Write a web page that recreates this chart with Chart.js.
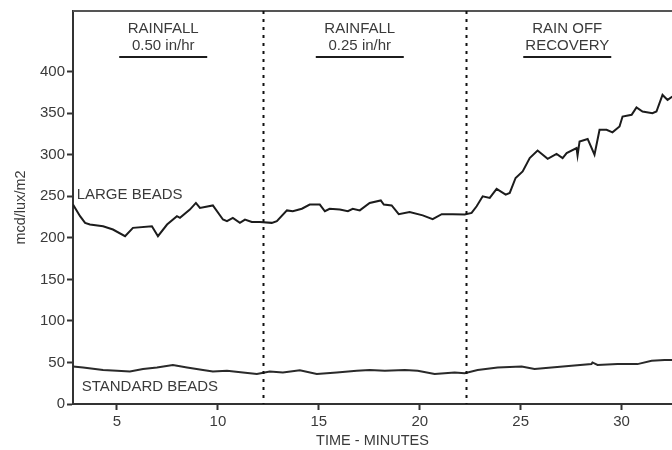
<!DOCTYPE html>
<html>
<head>
<meta charset="utf-8">
<script src="https://cdn.jsdelivr.net/npm/chart.js@4.4.1/dist/chart.umd.min.js"></script>
<style>
  body { margin: 0; background: #fff; }
  .chart-box { width: 672px; height: 450px; }
</style>
</head>
<body>
<div class="chart-box"><canvas id="chart"></canvas></div>
<script>
//Retroreflectivity readings (minutes, mcd/lux/m2)
const largeTime = [2.82, 3.17, 3.42, 3.66, 4.31, 4.80, 5.40, 5.79, 6.73, 7.03, 7.48, 7.97, 8.12, 8.61, 8.91, 9.11, 9.75, 10.25, 10.45, 10.74, 11.09, 11.34, 11.68, 12.08, 12.67, 12.92, 13.42, 13.71, 14.16, 14.55, 15.05, 15.30, 15.54, 16.04, 16.44, 16.68, 17.03, 17.52, 18.07, 18.22, 18.61, 18.96, 19.50, 20.15, 20.64, 21.09, 21.63, 22.23, 22.57, 22.82, 23.12, 23.47, 23.81, 24.26, 24.46, 24.75, 25.10, 25.45, 25.84, 26.34, 26.78, 27.08, 27.28, 27.77, 27.82, 27.92, 28.32, 28.66, 28.91, 29.26, 29.55, 29.90, 30.05, 30.50, 30.74, 31.04, 31.53, 31.73, 32.03, 32.28, 32.52];
const largeValue = [240, 226, 218, 216, 214, 210, 202, 212, 214, 202, 216, 226, 224, 234, 242, 236, 239, 222, 220, 224, 218, 222, 219, 219, 218, 220, 233, 232, 235, 240, 240, 232, 235, 234, 232, 235, 233, 242, 245, 240, 239, 228.5, 231, 227, 222.5, 228.5, 228.5, 228, 230, 238, 250, 248, 259, 252, 254, 272, 280, 296, 305, 295, 301, 296, 302, 308, 299, 316, 319, 300, 330, 330, 327, 334, 346, 348, 357, 352, 350, 352, 372, 366, 370];

const stdTime = [2.82, 3.32, 4.31, 5.00, 5.64, 6.29, 6.98, 7.77, 8.47, 9.26, 9.75, 10.45, 11.24, 11.93, 12.57, 13.22, 14.06, 14.90, 15.89, 16.88, 17.52, 18.27, 19.26, 19.90, 20.74, 21.73, 22.23, 22.87, 23.86, 25.05, 25.69, 26.53, 27.52, 28.51, 28.56, 28.81, 29.80, 30.79, 31.49, 32.13, 32.52];
const stdValue = [45, 44, 41, 40, 39, 42, 44, 47, 44, 41, 39, 40, 38, 36, 39, 38, 40.5, 36, 38, 40, 41, 40, 41, 40, 36, 38, 37, 41, 44, 45, 42, 44, 46, 48, 50, 47, 48, 48, 52, 53, 53];

//Axis ticks
const xTicks = [5, 10, 15, 20, 25, 30];
const yTicks = [0, 50, 100, 150, 200, 250, 300, 350, 400];

//Test phases: boundaries and the captions above each one
const phaseBreaks = [12.23, 22.28];
const phaseCenters = [7.29, 17.03, 27.31];
const phaseLines = [
  ['RAINFALL', '0.50 in/hr'],
  ['RAINFALL', '0.25 in/hr'],
  ['RAIN OFF', 'RECOVERY'],
];

//Series names written beside the curves
const seriesNames = ['LARGE BEADS', 'STANDARD BEADS'];
const seriesNamePos = [[3.0, 252], [3.25, 20.5]];

const FONT = "'Liberation Sans', Arial, sans-serif";
const TEXT = '#3a3a3a';
const INK = '#1c1c1c';

function toPoints(xs, ys) {
  return xs.map((x, i) => ({ x: x, y: ys[i] }));
}

//Draws the top frame, the dotted phase lines and all the captions
const annotations = {
  id: 'annotations',
  afterDatasetsDraw(chart) {
    const ctx = chart.ctx;
    const area = chart.chartArea;
    const xs = chart.scales.x;
    const ys = chart.scales.y;

    ctx.save();
    ctx.strokeStyle = '#555';
    ctx.lineWidth = 2;
    ctx.beginPath();
    ctx.moveTo(area.left, area.top);
    ctx.lineTo(area.right, area.top);
    ctx.stroke();

    ctx.strokeStyle = '#111';
    ctx.setLineDash([3, 5]);
    phaseBreaks.forEach((t) => {
      const px = Math.round(xs.getPixelForValue(t)) + 0.5;
      ctx.beginPath();
      ctx.moveTo(px, area.top);
      ctx.lineTo(px, area.bottom);
      ctx.stroke();
    });
    ctx.setLineDash([]);

    ctx.fillStyle = TEXT;
    ctx.font = '15px ' + FONT;
    ctx.textAlign = 'center';
    ctx.textBaseline = 'middle';
    phaseLines.forEach((lines, i) => {
      const cx = xs.getPixelForValue(phaseCenters[i]);
      ctx.fillText(lines[0], cx, area.top + 18);
      ctx.fillText(lines[1], cx, area.top + 35);
      ctx.strokeStyle = INK;
      ctx.lineWidth = 2;
      ctx.beginPath();
      ctx.moveTo(cx - 44, area.top + 46);
      ctx.lineTo(cx + 44, area.top + 46);
      ctx.stroke();
    });

    ctx.textAlign = 'left';
    seriesNames.forEach((name, i) => {
      const p = seriesNamePos[i];
      ctx.fillText(name, xs.getPixelForValue(p[0]), ys.getPixelForValue(p[1]));
    });
    ctx.restore();
  },
};

const myChart = new Chart(document.querySelector('#chart').getContext('2d'), {
  type: 'line',
  data: {
    datasets: [
      {
        label: 'large beads',
        data: toPoints(largeTime, largeValue),
        borderColor: INK,
        borderWidth: 2,
        pointRadius: 0,
        tension: 0,
      },
      {
        label: 'standard beads',
        data: toPoints(stdTime, stdValue),
        borderColor: '#2a2a2a',
        borderWidth: 2,
        pointRadius: 0,
        tension: 0,
      },
    ],
  },
  options: {
    responsive: true,
    maintainAspectRatio: false,
    animation: false,
    layout: { padding: { top: 11, right: 0, left: 0, bottom: 0 } },
    plugins: {
      legend: { display: false },
      tooltip: { enabled: false },
    },
    scales: {
      x: {
        type: 'linear',
        min: 2.82,
        max: 32.5,
        afterBuildTicks: (scale) => {
          scale.ticks = xTicks.map((v) => ({ value: v }));
        },
        afterFit: (scale) => {
          scale.height = 46;
        },
        border: { display: true, color: '#333', width: 2 },
        grid: { drawOnChartArea: false, tickLength: 6, tickWidth: 2, tickColor: '#333' },
        ticks: { color: TEXT, padding: 3, font: { family: FONT, size: 15 } },
        title: {
          display: true,
          text: 'TIME - MINUTES',
          color: TEXT,
          padding: { top: 0, bottom: 0 },
          font: { family: FONT, size: 14.5 },
        },
      },
      y: {
        min: 0,
        max: 473,
        afterBuildTicks: (scale) => {
          scale.ticks = yTicks.map((v) => ({ value: v }));
        },
        afterFit: (scale) => {
          scale.width = 73;
        },
        border: { display: true, color: '#333', width: 2 },
        grid: { drawOnChartArea: false, tickLength: 6, tickWidth: 2, tickColor: '#333' },
        ticks: { color: TEXT, padding: 2, font: { family: FONT, size: 15 } },
        title: {
          display: true,
          text: 'mcd/lux/m2',
          color: TEXT,
          padding: { top: 12, bottom: 0 },
          font: { family: FONT, size: 14.5 },
        },
      },
    },
  },
  plugins: [annotations],
});
</script>
</body>
</html>
